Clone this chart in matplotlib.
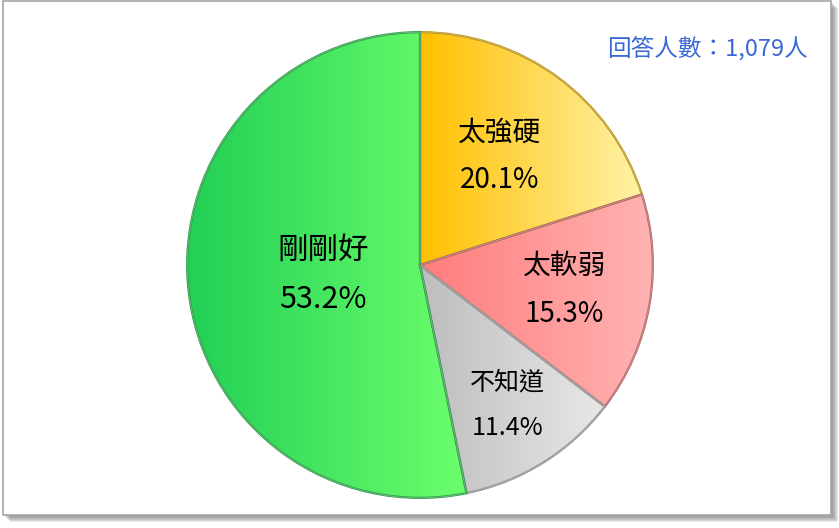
import numpy as np
import matplotlib
matplotlib.use("Agg")
import matplotlib.pyplot as plt
from matplotlib.patches import PathPatch, Rectangle
from matplotlib.colors import LinearSegmentedColormap

plt.rcParams['font.family'] = ['Noto Sans CJK TC', 'DejaVu Sans']

# ---------------------------- data ----------------------------
labels = ['太強硬', '太軟弱', '不知道', '剛剛好']
values = [20.1, 15.3, 11.4, 53.2]
respondents = '回答人數：1,079人'

# gradient (left -> right) and edge colours for each slice
grad_left = ['#ffc000', '#ff7c7c', '#bdbdbd', '#22cf55']
grad_right = ['#fff2a6', '#ffb3b3', '#e8e8e8', '#6cff6c']
edge_cols = ['#b8901a', '#b06060', '#8c8c8c', '#2a9a45']
label_dist = [0.58, 0.63, 0.71, 0.42]
label_size = [20, 20, 18, 22]
label_gap = [1.75, 1.8, 1.95, 1.75]

# ---------------------------- figure ----------------------------
W, H = 839, 528
fig = plt.figure(figsize=(W / 100, H / 100), dpi=100)
fig.patch.set_facecolor('white')


def px_rect(x0, y0, x1, y1, **kw):
    # rectangle given in pixel coords measured from the top-left corner
    return Rectangle((x0 / W, (H - y1) / H), (x1 - x0) / W, (y1 - y0) / H,
                     transform=fig.transFigure, zorder=-10, **kw)


# frame: soft grey shadow at right / bottom, then white panel with thin border
for k in range(7, 0, -1):
    fig.patches.append(px_rect(3 + k, 1 + k, 831 + k, 515 + k, fc=(0.45, 0.45, 0.45, 0.16), ec='none'))
fig.patches.append(px_rect(3, 1, 831, 515, fc='white', ec='#a6a6a6', lw=1.2))

cx, cy, r = 420, 265, 234
ax = fig.add_axes([(cx - r) / W, (H - cy - r) / H, 2 * r / W, 2 * r / H])
ax.set_aspect('equal')
ax.axis('off')

wedges, _ = ax.pie(values, startangle=90, counterclock=False, radius=1,
                   wedgeprops=dict(lw=0))

for i, w in enumerate(wedges):
    path = w.get_path()
    ext = path.get_extents()
    cmap = LinearSegmentedColormap.from_list('g%d' % i, [grad_left[i], grad_right[i]])
    grad = np.linspace(0, 1, 256).reshape(1, -1)
    im = ax.imshow(grad, cmap=cmap, aspect='auto',
                   extent=[ext.x0, ext.x1, ext.y0, ext.y1], zorder=2)
    im.set_clip_path(w)
    # bevel: dark outer edge + light inner line
    ax.add_patch(PathPatch(path, fc='none', ec=edge_cols[i], lw=1.6, zorder=3))
    ax.add_patch(PathPatch(path, fc='none', ec=(1, 1, 1, 0.35), lw=0.6, zorder=3))

    ang = np.deg2rad((w.theta1 + w.theta2) / 2)
    d = label_dist[i]
    x, y = d * np.cos(ang), d * np.sin(ang)
    ax.text(x, y, '%s\n%.1f%%' % (labels[i], values[i]), ha='center', va='center',
            fontsize=label_size[i], color='black', linespacing=label_gap[i], zorder=5)

ax.set_xlim(-1.005, 1.005)
ax.set_ylim(-1.005, 1.005)

fig.text(808 / W, 1 - 48 / H, respondents, ha='right', va='center',
         fontsize=17, color='#3a68d8')

fig.savefig('out.png', dpi=100)
